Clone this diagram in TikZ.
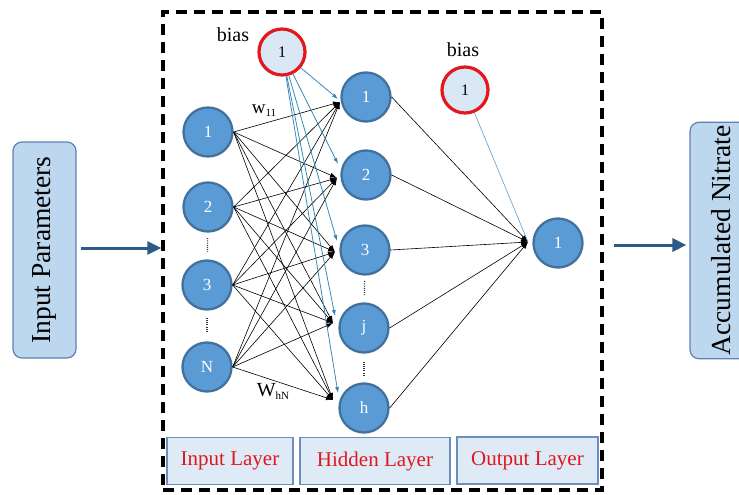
\documentclass[tikz,border=0pt]{standalone}
\usepackage{fontspec}
\setmainfont{Liberation Serif}
\usetikzlibrary{arrows.meta,calc}
\definecolor{nblue}{HTML}{5B9BD5}
\definecolor{nborder}{HTML}{41719C}
\definecolor{bred}{HTML}{E3171D}
\definecolor{bfill}{HTML}{DAE8F5}
\definecolor{iofill}{HTML}{BDD7EE}
\definecolor{ioborder}{HTML}{5F83AD}
\definecolor{layfill}{HTML}{DEEBF7}
\definecolor{layborder}{HTML}{6C8EBF}
\definecolor{laytext}{HTML}{E0161E}
\definecolor{arrblue}{HTML}{2C5B87}
\definecolor{bline}{HTML}{2E86B5}
\definecolor{bline2}{HTML}{6FA8DC}
\tikzset{
  neuron/.style={circle, fill=nblue, draw=nborder, line width=2.3pt, minimum size=49pt, inner sep=0pt, text=white, font=\fontsize{17}{17}\selectfont},
  biasn/.style={circle, fill=bfill, draw=bred, line width=3.2pt, minimum size=46pt, inner sep=0pt, text=black, font=\fontsize{16}{16}\selectfont},
  iobox/.style={rectangle, rounded corners=9pt, fill=iofill, draw=ioborder, line width=1.2pt, minimum width=216pt, minimum height=63pt, rotate=90, font=\fontsize{27.5}{27.5}\selectfont},
  laybox/.style={rectangle, fill=layfill, draw=layborder, line width=1.5pt, minimum height=47pt, text=laytext, font=\fontsize{21}{21}\selectfont},
  frame/.style={rectangle, draw=black, line width=3.5pt, dash pattern=on 11pt off 7pt, minimum width=439pt, minimum height=478pt},
  conn/.style={draw=black, line width=0.6pt, -{Latex[length=7pt,width=5pt]}},
  bconn/.style={draw=bline, line width=0.75pt, -{Latex[length=6pt,width=4pt]}},
  bconnb/.style={draw=bline2, line width=0.7pt},
  bigarrow/.style={draw=arrblue, line width=3pt, -{Triangle[length=14pt,width=13pt]}},
  vdots/.style={draw=black!80, line width=1.3pt, dash pattern=on 1pt off 1.2pt},
  lbl/.style={font=\fontsize{20}{20}\selectfont, inner sep=0pt},
}
\begin{document}
\begin{tikzpicture}[x=1pt,y=-1pt]
\useasboundingbox (0,0) rectangle (739,495);
\clip (0,0) rectangle (739,495);
\fill[white] (0,0) rectangle (739,495);

% frame
\node[frame] (fr) at (382.5,251) {};

% side boxes
\node[iobox] (inp) at (44.5,250) {Input Parameters};
\node[iobox] (acc) at (721.5,240.5) {Accumulated Nitrate};

% layer boxes
\node[laybox, minimum width=126pt] (li) at (230,461) {Input Layer};
\node[laybox, minimum width=150pt] (lh) at (375,461) {Hidden Layer};
\node[laybox, minimum width=141pt] (lo) at (527.5,460.5) {Output Layer};

% input neurons
\node[neuron] (i1) at (208,132) {1};
\node[neuron] (i2) at (208,207) {2};
\node[neuron] (i3) at (207,285) {3};
\node[neuron] (iN) at (207,367) {N};

% hidden neurons
\node[neuron] (h1) at (366,97) {1};
\node[neuron] (h2) at (366,175) {2};
\node[neuron] (h3) at (365,250) {3};
\node[neuron] (hj) at (364,328) {j};
\node[neuron] (hh) at (364,408) {h};

% output neuron
\node[neuron] (o1) at (558,243) {1};

% bias neurons
\node[biasn] (b1) at (282,52) {1};
\node[biasn] (b2) at (465,90) {1};
\node[lbl] (bl1) at (233,35) {bias};
\node[lbl] (bl2) at (463,50) {bias};

% convergence points
\coordinate (h1-in) at ($(h1)+(-26,5)$);
\coordinate (h2-in) at ($(h2)+(-29,3)$);
\coordinate (h3-in) at ($(h3)+(-30,2)$);
\coordinate (hj-in) at ($(hj)+(-31,-5)$);
\coordinate (hh-in) at ($(hh)+(-31,-8)$);
\coordinate (h1-bin) at ($(h1)+(-28,2)$);
\coordinate (h2-bin) at ($(h2)+(-28,-11)$);
\coordinate (h3-bin) at ($(h3)+(-28,-9)$);
\coordinate (hj-bin) at ($(hj)+(-29,-12)$);
\coordinate (hh-bin) at ($(hh)+(-26,-15)$);
\coordinate (o-in) at ($(o1)+(-30,-1)$);

% connections input -> hidden
\foreach \i in {i1,i2,i3,iN}{
  \foreach \h in {h1,h2,h3,hj,hh}{
    \draw[conn] (\i.east) -- (\h-in);
  }
}
% bias -> hidden
\foreach \h in {h1,h2,h3,hj,hh}{
  \draw[bconn] (b1) -- (\h-bin);
}
% hidden -> output
\foreach \h in {h1,h2,h3,hj,hh}{
  \draw[conn] (\h.east) -- (o-in);
}
\draw[bconnb] (b2) -- (o-in);

% weight labels
\node[lbl, font=\fontsize{19}{19}\selectfont] (w11) at (264,111) {w\raisebox{-3pt}{\fontsize{11}{11}\selectfont 11}};
\node[lbl] (whn) at (273,391) {W\raisebox{-3pt}{\fontsize{11}{11}\selectfont hN}};

% vertical dots
\draw[vdots] ($(i2)!0.40!(i3)$) -- ($(i2)!0.58!(i3)$);
\draw[vdots] ($(i3)!0.40!(iN)$) -- ($(i3)!0.58!(iN)$);
\draw[vdots] ($(h3)!0.40!(hj)$) -- ($(h3)!0.58!(hj)$);
\draw[vdots] ($(hj)!0.42!(hh)$) -- ($(hj)!0.60!(hh)$);

% big arrows
\draw[bigarrow] ($(inp.south)+(4,-2)$) -- (fr.west |- 0,248) ;
\draw[bigarrow] ($(fr.east |- o1)+(10,2)$) -- ($(acc.north |- o1)+(-3,2)$);
\end{tikzpicture}
\end{document}
